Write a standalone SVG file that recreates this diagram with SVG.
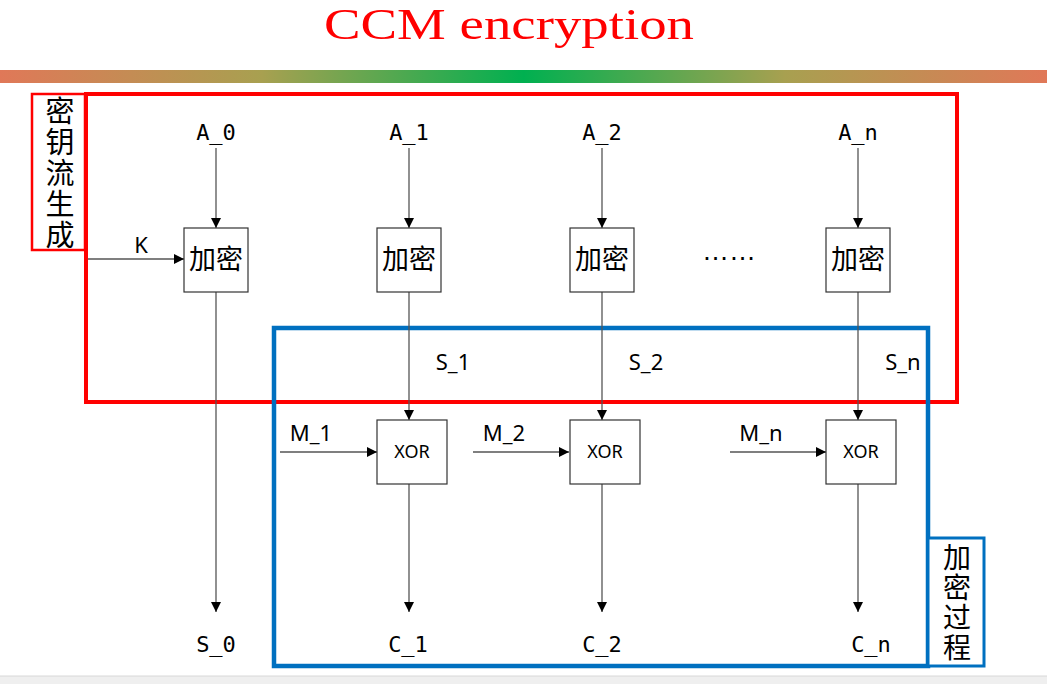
<svg xmlns="http://www.w3.org/2000/svg" width="1047" height="684" viewBox="0 0 1047 684">
<defs>
<linearGradient id="bar" x1="0" y1="0" x2="1" y2="0">
<stop offset="0" stop-color="#e07858"/>
<stop offset="0.25" stop-color="#a8a050"/>
<stop offset="0.5" stop-color="#00b050"/>
<stop offset="0.75" stop-color="#a8a050"/>
<stop offset="1" stop-color="#e07858"/>
</linearGradient>
<marker id="arr" viewBox="0 0 10 10" refX="10" refY="5" markerWidth="10" markerHeight="10" markerUnits="userSpaceOnUse" orient="auto">
<path d="M0,0 L10,5 L0,10 z" fill="#000"/>
</marker>
</defs>
<style>
.box{fill:#fff;stroke:#333;stroke-width:1.2}
.ln{stroke:#555;stroke-width:1.3;fill:none;marker-end:url(#arr)}
.mono{font-family:"DejaVu Sans Mono","Liberation Mono",monospace;font-size:22px;fill:#000;text-anchor:middle}
.sans{font-family:"Noto Sans","DejaVu Sans",sans-serif;font-size:22px;fill:#000;text-anchor:middle}
.cjk{font-family:"Noto Sans CJK SC",sans-serif;font-size:27px;fill:#000;text-anchor:middle}
.xor{font-family:"Noto Sans","DejaVu Sans",sans-serif;font-size:18px;fill:#000;text-anchor:middle}
.vlab{font-family:"Noto Sans CJK SC",sans-serif;fill:#000;writing-mode:vertical-rl;text-anchor:start}
</style>
<rect width="1047" height="684" fill="#fff"/>
<text x="509" y="35.5" font-family="'Liberation Serif',serif" font-size="40" fill="#ff0000" text-anchor="middle" transform="scale(1,1.1)" textLength="370" lengthAdjust="spacingAndGlyphs">CCM encryption</text>
<rect x="0" y="70" width="1047" height="13" fill="url(#bar)"/>
<rect x="0" y="676" width="1047" height="8" fill="#efefef"/>
<line x1="0" y1="676" x2="1047" y2="676" stroke="#d8d8d8" stroke-width="1"/>

<g id="keystream-region">
<rect x="86" y="94" width="871" height="308" fill="none" stroke="#ff0000" stroke-width="4"/>
<rect x="32" y="94" width="53" height="156" fill="#fff" stroke="#ff0000" stroke-width="2.5"/>
<text class="vlab" x="60" y="96" font-size="29" letter-spacing="2">密钥流生成</text>
</g>

<g id="encrypt-region">
<rect x="274" y="328" width="654" height="338" fill="none" stroke="#0070c0" stroke-width="4.5"/>
<rect x="928" y="538" width="56" height="128" fill="#fff" stroke="#0070c0" stroke-width="3"/>
<text class="vlab" x="957" y="543" font-size="28" letter-spacing="2">加密过程</text>
</g>

<g id="connectors">
<line class="ln" x1="216" y1="148" x2="216" y2="228"/>
<line class="ln" x1="409" y1="148" x2="409" y2="228"/>
<line class="ln" x1="602" y1="148" x2="602" y2="228"/>
<line class="ln" x1="858" y1="148" x2="858" y2="228"/>
<line class="ln" x1="88" y1="259" x2="184" y2="259"/>
<line class="ln" x1="216" y1="292" x2="216" y2="612"/>
<line class="ln" x1="409" y1="292" x2="409" y2="420"/>
<line class="ln" x1="602" y1="292" x2="602" y2="420"/>
<line class="ln" x1="858" y1="292" x2="858" y2="420"/>
<line class="ln" x1="280" y1="452" x2="377" y2="452"/>
<line class="ln" x1="473" y1="452" x2="569" y2="452"/>
<line class="ln" x1="730" y1="452" x2="826" y2="452"/>
<line class="ln" x1="409" y1="484" x2="409" y2="612"/>
<line class="ln" x1="602" y1="484" x2="602" y2="612"/>
<line class="ln" x1="858" y1="484" x2="858" y2="612"/>
</g>

<g id="labels">
<text class="mono" x="216" y="140">A_0</text>
<text class="mono" x="409" y="140">A_1</text>
<text class="mono" x="602" y="140">A_2</text>
<text class="mono" x="858" y="140">A_n</text>
<text class="sans" x="141" y="253" font-size="20">K</text>
<text class="sans" x="453" y="370">S_1</text>
<text class="sans" x="646" y="370">S_2</text>
<text class="sans" x="903" y="370">S_n</text>
<text class="sans" x="311" y="441">M_1</text>
<text class="sans" x="504" y="441">M_2</text>
<text class="sans" x="761" y="441">M_n</text>
<text x="729" y="260" font-family="Liberation Sans,sans-serif" font-size="27" text-anchor="middle" fill="#000">……</text>
<text class="mono" x="216" y="652">S_0</text>
<text class="mono" x="408" y="652">C_1</text>
<text class="mono" x="602" y="652">C_2</text>
<text class="mono" x="871" y="652">C_n</text>
</g>

<g id="enc0"><rect class="box" x="184" y="228" width="64" height="64"/><text class="cjk" x="216" y="269">加密</text></g>
<g id="enc1"><rect class="box" x="377" y="228" width="64" height="64"/><text class="cjk" x="409" y="269">加密</text></g>
<g id="enc2"><rect class="box" x="570" y="228" width="64" height="64"/><text class="cjk" x="602" y="269">加密</text></g>
<g id="encn"><rect class="box" x="826" y="228" width="64" height="64"/><text class="cjk" x="858" y="269">加密</text></g>

<g id="xor1"><rect class="box" x="377" y="420" width="70" height="64"/><text class="xor" x="412" y="458">XOR</text></g>
<g id="xor2"><rect class="box" x="570" y="420" width="70" height="64"/><text class="xor" x="605" y="458">XOR</text></g>
<g id="xorn"><rect class="box" x="826" y="420" width="70" height="64"/><text class="xor" x="861" y="458">XOR</text></g>
</svg>
